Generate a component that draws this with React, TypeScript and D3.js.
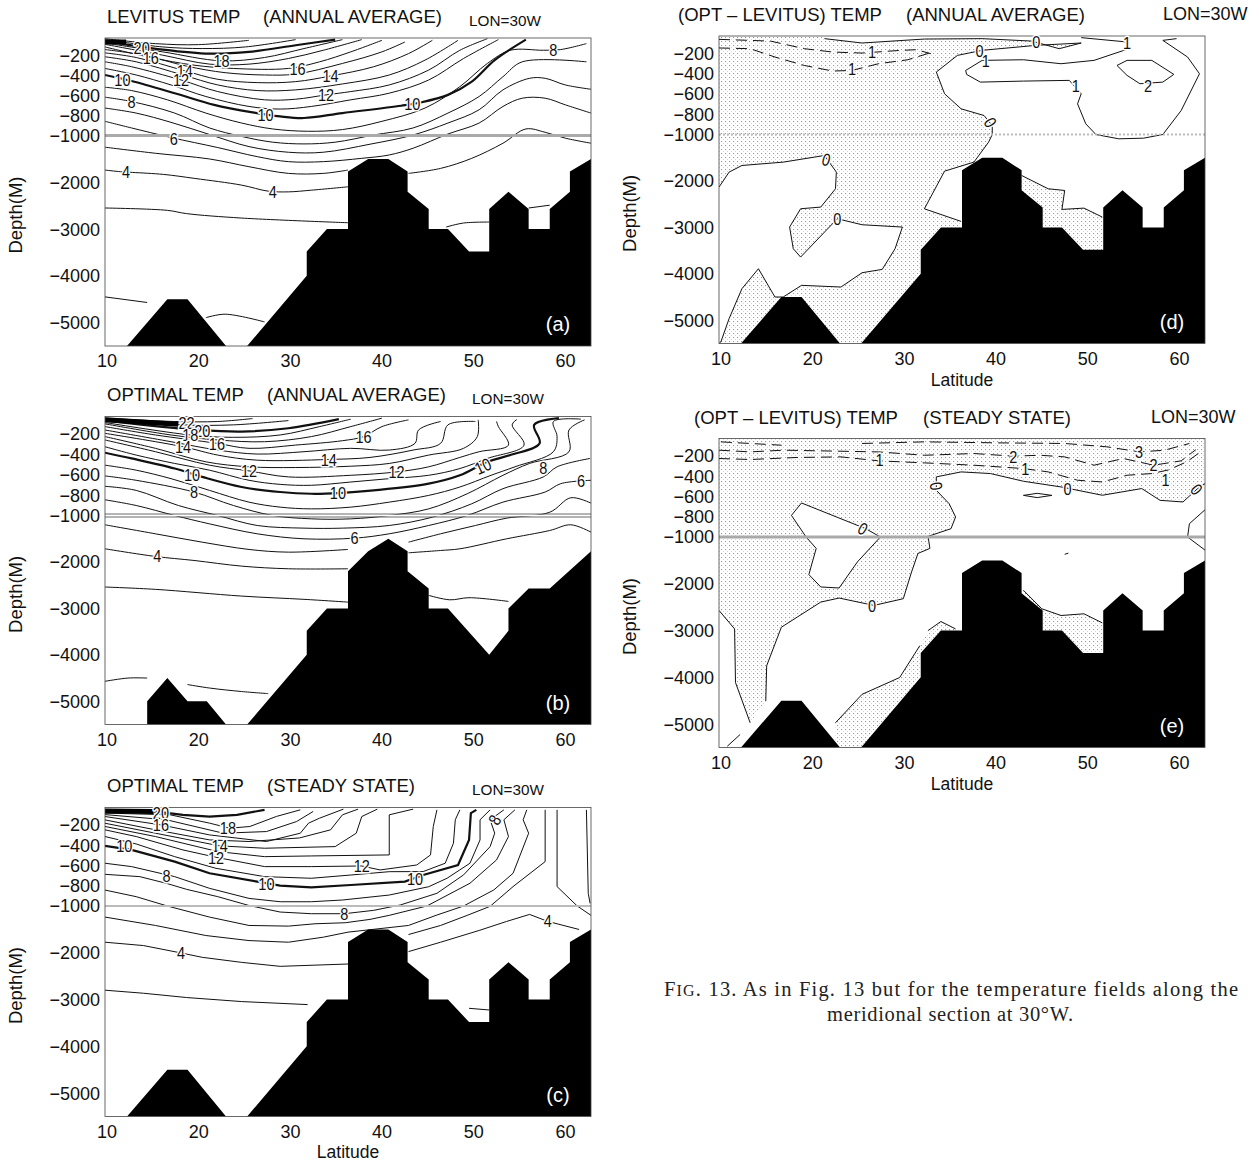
import React from 'react';
import * as d3 from 'd3';

type Pt = [number, number];
type Lab = [number, number, string, number?];

const latTicks = [10, 20, 30, 40, 50, 60];
const depthTicks = [-200, -400, -600, -800, -1000, -2000, -3000, -4000, -5000];

const seafloorCommon: Pt[] = [[12.4,-5500],[16.8,-4500],[19,-4500],[23.2,-5500],[25.5,-5500],[32,-4000],[32,-3480],[34.2,-3000],[36.5,-3000],[36.5,-1770],[38.7,-1500],[40.9,-1500],[43,-1770],[43,-2200],[45.3,-2570],[45.3,-3000],[47.4,-3000],[49.7,-3480],[51.9,-3480],[51.9,-2570],[54,-2200],[56.2,-2570],[56.2,-3000],[58.5,-3000],[58.5,-2570],[60.7,-2200],[60.7,-1770],[63,-1500],[63,-5500]];
const seafloorB: Pt[] = [[14.6,-5500],[14.6,-5000],[16.8,-4500],[19,-5000],[21.1,-5000],[23.2,-5500],[25.5,-5500],[32,-4000],[32,-3480],[34.2,-3000],[36.5,-3000],[36.5,-2200],[38.7,-1770],[40.9,-1500],[43,-1770],[43,-2200],[45.3,-2570],[45.3,-3000],[47.4,-3000],[51.9,-4000],[54,-3480],[54,-3000],[56.2,-2570],[58.5,-2570],[63,-1770],[63,-5500]];

// ---- panel (a) isotherms
const a02a: Pt[] = [[10,-4450],[14.6,-4570]];
const a02b: Pt[] = [[21,-4895],[23.1,-4820],[27.4,-4985]];
const a03a: Pt[] = [[10,-2550],[16.8,-2600],[18.9,-2670],[24.9,-2765],[36.5,-2865]];
const a03b: Pt[] = [[47.2,-2957],[49.1,-2871],[51.9,-2850]];
const a03c: Pt[] = [[56.2,-2550],[58.5,-2490]];
const a04: Pt[] = [[10,-1739],[11.7,-1774],[13,-1789],[16.4,-1832],[19.8,-1918],[24.9,-2061],[27.8,-2190],[30,-2205],[32.5,-2169],[36.5,-2097]];
const a05: Pt[] = [[10,-1250],[15.5,-1380],[21.4,-1502],[25.7,-1667],[30,-1810],[33.8,-1810],[36.5,-1739]];
const a05r: Pt[] = [[43.1,-1810],[46.6,-1703],[50,-1488],[53.4,-1165],[55.9,-935],[58,-968],[60.2,-1057],[63,-1165]];
const a06: Pt[] = [[10,-859],[12.9,-925],[17.2,-1043],[22.3,-1258],[26.6,-1452],[30,-1559],[33.8,-1559],[38,-1488],[41,-1416],[43.6,-1272],[47.4,-985],[50.8,-876],[53.4,-711],[55.5,-629],[58,-629],[60.2,-695],[63,-777]];
const a07: Pt[] = [[10,-727],[13.4,-777],[17.2,-869],[21.4,-990],[25.7,-1237],[30,-1358],[33.8,-1358],[38.9,-1186],[43.6,-995],[47.4,-876],[50.8,-744],[53.4,-546],[56.3,-431],[58,-431],[60.2,-497],[63,-540]];
const a08: Pt[] = [[10,-619],[12.9,-662],[17.6,-777],[21.4,-925],[24.9,-1020],[28.3,-1143],[31.7,-1180],[35.1,-1143],[39.3,-995],[43.6,-925],[47.4,-777],[50.8,-612],[53.4,-415],[55.5,-267],[62.5,-267]];
const a09: Pt[] = [[10,-520],[12.9,-553],[16.8,-645],[21,-777],[24.9,-876],[28.3,-935],[32.1,-958],[35.9,-941],[40.2,-859],[44.9,-727],[48.7,-514],[51.7,-283],[54.2,-152],[57.8,-152],[59.7,-145],[62.5,-86]];
const a10: Pt[] = [[10,-398],[12.9,-458],[17.6,-579],[21.9,-695],[26.1,-770],[29.1,-810],[31.7,-826],[35.9,-777],[42.3,-704],[44.4,-672],[47.4,-596],[50,-464],[52.5,-250],[55.9,-46]];
const a11: Pt[] = [[10,-333],[13.4,-398],[17.2,-497],[21,-612],[25.7,-711],[29.1,-737],[32.5,-711],[36.8,-645],[41,-579],[45.3,-448],[49.1,-234],[52.9,-46]];
const a12: Pt[] = [[10,-267],[12.9,-316],[18.3,-448],[22.3,-563],[27.4,-645],[30.8,-639],[34.1,-596],[36.8,-563],[41,-497],[45.3,-349],[48.7,-152],[51.7,-37]];
const a13: Pt[] = [[10,-217],[13.4,-267],[18.5,-398],[22.3,-497],[26.6,-553],[30.8,-546],[35.9,-487],[41,-398],[44.9,-250],[48.5,-53]];
const a14: Pt[] = [[10,-178],[13.4,-224],[18.7,-356],[22.3,-441],[26.6,-474],[30.8,-464],[34.6,-408],[39.3,-316],[43.1,-185],[45.7,-53]];
const a15: Pt[] = [[10,-145],[14.2,-201],[18.9,-310],[23.1,-375],[27.4,-398],[30.8,-389],[35.9,-283],[40.2,-168],[42.7,-70]];
const a16: Pt[] = [[10,-119],[15,-224],[19.7,-300],[24,-333],[30,-333],[33.4,-267],[36.8,-168],[40.2,-53]];
const a17: Pt[] = [[10,-93],[16.3,-201],[21.4,-290],[25.7,-290],[30,-234],[33.8,-152],[38,-46]];
const a18: Pt[] = [[10,-80],[16.3,-168],[22.7,-257],[27.4,-224],[31.7,-135],[35.9,-46]];
const a19: Pt[] = [[10,-60],[16.3,-145],[21.4,-185],[25.7,-168],[30.8,-102],[35.1,-46]];
const a20: Pt[] = [[10,-46],[16.3,-119],[20.6,-135],[25.3,-119],[30.8,-46]];
const a21: Pt[] = [[10,-37],[15.5,-86],[20.2,-96],[25.7,-53]];
const aBlob: Pt[] = [[10,-70],[12.3,-70]];
const aLabels: Lab[] = [[14,-125,'20'],[15,-224,'16'],[18.7,-356,'14'],[18.3,-448,'12'],[22.7,-257,'18'],[31,-333,'16'],[34.6,-408,'14'],[34.1,-596,'12'],[11.9,-448,'10'],[12.9,-662,'8'],[27.5,-793,'10'],[43.5,-682,'10'],[58.9,-145,'8'],[17.5,-1072,'6'],[12.3,-1774,'4'],[28.3,-2205,'4']];

// ---- panel (b) isotherms
const b02a: Pt[] = [[10,-4570],[12.5,-4500],[14.6,-4500]];
const b02b: Pt[] = [[19,-4640],[21.4,-4715],[24.9,-4790],[27.8,-4835]];
const b03a: Pt[] = [[10,-2540],[15.5,-2590],[24.9,-2735],[31.7,-2805],[36.5,-2865]];
const b03b: Pt[] = [[45.3,-2720],[47.6,-2815],[49.7,-2770],[54,-2850]];
const b04: Pt[] = [[10,-1717],[15.5,-1882],[19.7,-1968],[24.9,-2090],[30,-2147],[36.5,-2147]];
const b04r: Pt[] = [[43.1,-1803],[46.6,-1753],[48.7,-1717],[53.8,-1502],[58.5,-1323],[60.8,-1200],[63,-1358]];
const b05: Pt[] = [[10,-1200],[15.5,-1394],[20.6,-1574],[25.7,-1731],[30,-1789],[36.5,-1731]];
const b05r: Pt[] = [[43.1,-1574],[46.6,-1394],[50.4,-1215],[53.8,-1057],[58.5,-968],[60.8,-826],[63,-879]];
const b06: Pt[] = [[10,-846],[13.4,-902],[17.6,-1000],[21.4,-1180],[26.6,-1394],[31.7,-1502],[37.2,-1488],[41,-1394],[45.3,-1215],[49.5,-1000],[53.4,-869],[58,-770],[59.7,-688],[63,-655]];
const b07: Pt[] = [[10,-714],[13.4,-754],[18,-902],[22.3,-1000],[26.6,-1215],[31.7,-1272],[35.9,-1272],[41,-1215],[45.7,-1036],[50,-885],[53.4,-737],[57.8,-622],[59.3,-523],[62.9,-441]];
const b08: Pt[] = [[10,-612],[13.4,-655],[19.7,-770],[24,-902],[28.3,-1000],[32.5,-1072],[36.8,-1072],[41,-1000],[45.3,-935],[49.5,-787],[53.4,-606],[56.3,-490],[60.6,-375],[60.6,-162],[62.3,-63]];
const b09: Pt[] = [[10,-507],[13.4,-556],[17.2,-639],[21.4,-754],[25.7,-869],[29.1,-918],[32.5,-935],[36.8,-918],[41,-869],[45.3,-803],[48.7,-721],[52.1,-606],[54.7,-523],[58.9,-375],[59.3,-227],[58.9,-79],[61.9,-56]];
const b10: Pt[] = [[10,-385],[12.9,-441],[17.6,-540],[20.6,-622],[24.9,-721],[29.1,-770],[32.5,-787],[35.5,-780],[39.3,-754],[45.3,-688],[48.7,-606],[51.7,-474],[54.2,-408],[57.4,-293],[56.8,-112],[59.5,-46]];
const b11: Pt[] = [[10,-326],[13.4,-408],[17.6,-490],[21.4,-556],[25.7,-655],[29.1,-695],[32.5,-704],[36.8,-672],[41,-639],[45.3,-606],[48.7,-540],[51.7,-441],[55.7,-310],[54.4,-112],[54.9,-60]];
const b12: Pt[] = [[10,-260],[15.5,-375],[21.4,-507],[25.7,-563],[30,-622],[36.8,-606],[41.8,-573],[45.3,-523],[48.7,-431],[50.8,-375],[54,-310],[52.9,-129],[52.7,-79]];
const b13: Pt[] = [[10,-227],[15.5,-342],[21,-474],[25.7,-523],[30.8,-530],[36.8,-517],[41,-490],[45.3,-408],[49.1,-342],[50.6,-227],[50.7,-63]];
const b14: Pt[] = [[10,-195],[18.5,-326],[22.3,-408],[26.6,-458],[34.4,-451],[38.9,-431],[43.6,-359],[46.6,-293],[47.4,-112],[50.4,-79]];
const b15: Pt[] = [[10,-162],[17.2,-277],[22.3,-359],[26.6,-398],[31.7,-375],[36.8,-342],[41,-359],[43.8,-293],[44.2,-162],[46.6,-79]];
const b16: Pt[] = [[10,-129],[15.5,-211],[22.2,-293],[25.7,-342],[30.8,-310],[35.9,-267],[38.2,-227],[40.2,-129],[43.1,-63]];
const b17: Pt[] = [[10,-102],[17.2,-211],[22.3,-260],[27.4,-277],[32.5,-227],[36.8,-129],[40.2,-46]];
const b18: Pt[] = [[10,-89],[19.3,-211],[24,-234],[29.1,-211],[33.4,-129],[36.8,-56]];
const b19: Pt[] = [[10,-70],[20.2,-162],[24.9,-178],[30,-145],[35.5,-56]];
const b20: Pt[] = [[10,-56],[18.5,-112],[24,-112],[30,-70]];
const b21: Pt[] = [[10,-46],[17.6,-79],[22.3,-79],[26.1,-50]];
const bBlob: Pt[] = [[10,-62],[18,-105]];
const bLabels: Lab[] = [[18.9,-89,'22'],[20.6,-168,'20'],[19.3,-211,'18'],[22.2,-293,'16'],[18.5,-326,'14'],[25.7,-563,'12'],[19.5,-596,'10'],[19.7,-770,'8'],[38.2,-227,'16'],[34.4,-451,'14'],[41.8,-573,'12'],[35.4,-780,'10'],[51.2,-517,'10',-25],[57.8,-530,'8'],[61.9,-655,'6'],[37.2,-1488,'6'],[15.7,-1875,'4']];

// ---- panel (c) isotherms
const c03a: Pt[] = [[10,-2800],[14.2,-2865],[18.9,-2957],[24.9,-3043],[32.1,-3108]];
const c03b: Pt[] = [[49.7,-3187],[51.9,-3223]];
const c04: Pt[] = [[10,-1774],[14.2,-1846],[18.3,-2004],[20.6,-2097],[24.9,-2205],[29.1,-2290],[36.5,-2240]];
const c04r: Pt[] = [[43.1,-1975],[46.6,-1774],[50.8,-1523],[53.8,-1330],[56.3,-1180],[58.3,-1330],[61.7,-1502]];
const c05r: Pt[] = [[43.1,-1610],[46.6,-1416],[49.5,-1200],[52,-1007],[54.5,-809],[58,-563],[58,-53]];
const c06: Pt[] = [[10,-1237],[15.5,-1416],[21,-1631],[25.7,-1739],[30,-1774],[33.8,-1667],[36.5,-1559],[43.1,-1416],[46.1,-1200],[49.1,-1000],[52.4,-842],[54.5,-678],[56.2,-283],[55.6,-151],[56,-53]];
const c07: Pt[] = [[10,-843],[13.4,-908],[16.8,-1000],[21.4,-1237],[25.7,-1416],[30,-1430],[32.9,-1380],[36.2,-1358],[38.9,-1286],[41,-1200],[45.1,-1000],[49.8,-776],[52.7,-546],[54,-316],[53.5,-151],[54.7,-53]];
const c08: Pt[] = [[10,-688],[13.8,-711],[16.7,-777],[18.9,-836],[22.3,-908],[25.7,-995],[29.1,-1129],[32.5,-1165],[36.1,-1165],[39.3,-1093],[42.2,-990],[46.2,-875],[49.1,-694],[52,-415],[52.5,-283],[52,-151],[53.5,-53]];
const c09: Pt[] = [[10,-579],[12.9,-612],[17.6,-711],[21.4,-826],[25.7,-925],[29.1,-958],[32.5,-958],[35.9,-941],[41,-892],[45.3,-810],[47.3,-727],[49.8,-579],[50.9,-349],[50.9,-151],[52,-53]];
const c10: Pt[] = [[10,-408],[12.9,-448],[17.6,-563],[21.4,-678],[26.6,-760],[29.1,-800],[32.5,-816],[36.8,-793],[42.7,-760],[44.7,-694],[48.5,-596],[49.7,-349],[49.9,-85],[50.5,-53]];
const c11: Pt[] = [[10,-316],[13.4,-389],[17.6,-514],[22.1,-629],[27.4,-711],[32.5,-727],[36.8,-695],[41,-662],[44.7,-661],[47.1,-579],[48,-382],[48.2,-151],[48.7,-53]];
const c12: Pt[] = [[10,-250],[13.4,-316],[18.5,-448],[22.1,-520],[27.4,-612],[32.5,-612],[38,-606],[40,-645],[44,-596],[45.5,-497],[45.8,-217],[46.2,-53]];
const c13: Pt[] = [[10,-217],[15.5,-316],[22.3,-464],[27.4,-514],[32.5,-507],[41,-497],[41,-102],[43.6,-46]];
const c14: Pt[] = [[10,-185],[15.5,-283],[22.5,-408],[27.4,-431],[35.1,-415],[37.4,-283],[38,-119],[39.7,-46]];
const c15: Pt[] = [[10,-152],[15.5,-250],[21.4,-349],[25.7,-365],[31.2,-330],[34.6,-250],[35.9,-102],[37.6,-46]];
const c16: Pt[] = [[10,-119],[16.1,-201],[21.4,-300],[27.6,-365],[31.3,-283],[32.2,-184],[33.4,-135],[36,-46]];
const c17: Pt[] = [[10,-100],[16.7,-151],[22.9,-283],[27.6,-267],[30.9,-168],[32.7,-69]];
const c18: Pt[] = [[10,-85],[17.1,-102],[21.4,-184],[23.6,-234],[25.8,-217],[28.7,-118],[31.3,-53]];
const c19: Pt[] = [[15.3,-69],[18.5,-102],[21.4,-119],[24.4,-102],[27.4,-53]];
const c3r: Pt[] = [[62.5,-53],[62.7,-875],[62.9,-974]];
const c4v: Pt[] = [[59.3,-53],[59.3,-809],[61.5,-1000],[63,-1200]];
const cBlob: Pt[] = [[10,-65],[15.3,-69]];
const cLabels: Lab[] = [[16.1,-86,'20'],[16.1,-201,'16'],[23.4,-234,'18'],[22.5,-408,'14'],[22.1,-520,'12'],[38,-606,'12'],[12.1,-408,'10'],[27.6,-783,'10'],[43.8,-734,'10'],[16.7,-704,'8'],[36.1,-1165,'8'],[18.3,-2004,'4'],[58.3,-1323,'4'],[52.5,-152,'8',-60]];

// ---- panel (d) differences
const dMinus1a: Pt[] = [[10,-63],[15.6,-80],[19.3,-155],[22.4,-188],[25.6,-198],[29.7,-172],[31.5,-165],[33.1,-204]];
const dMinus1b: Pt[] = [[10,-148],[13.4,-155],[16.1,-237],[19.3,-320],[22.4,-375],[24.5,-369],[27.4,-303],[30.6,-264],[33.3,-188]];
const dZero: Pt[] = [[21.5,-56],[25.6,-99],[32.4,-60],[38.7,-56],[44.1,-80],[47.1,-155],[49.5,-99],[44.6,-122],[38.7,-171],[36,-221],[33.7,-385],[34.6,-599],[36.4,-747],[38.9,-813],[39.8,-912],[39.8,-1000],[39.4,-1165],[37.8,-1595],[34.6,-1789],[32.4,-2600],[36.4,-2871]];
const dZeroB: Pt[] = [[49.5,-46],[54.5,-89],[54.7,-155]];
const dOneA: Pt[] = [[47.3,-303],[43.2,-264],[38.7,-270],[36.9,-369],[37,-408],[38.5,-484],[43.2,-474],[48.2,-467],[49.5,-599],[49.1,-698],[50,-895],[51.1,-1000],[53.6,-1093],[56.3,-1079],[58.4,-1000],[60.4,-764],[62.4,-402],[61.1,-237],[58.4,-73],[59.9,-56]];
const dOneB: Pt[] = [[47.3,-303],[50.9,-270],[54.7,-155]];
const dTwo: Pt[] = [[53.4,-320],[54.5,-270],[57.2,-270],[59.6,-408],[58.4,-484],[55.9,-500],[54.5,-418],[53.4,-320]];
const dHole: Pt[] = [[10,-2133],[11.1,-1810],[12.5,-1667],[17,-1595],[21.5,-1452],[22.8,-1810],[22.7,-2169],[21.1,-2563],[18.9,-2599],[17.7,-2993],[18.1,-3459],[18.9,-3639],[22.9,-2814],[25.6,-2943],[30,-2993],[29.2,-3459],[27.8,-3904],[25.6,-3976],[23.3,-4284],[19,-4248],[17,-4499],[16.1,-4499],[14.3,-3890],[12.5,-4320],[11.1,-4965],[10.2,-5467],[10,-5500]];
const dRight: Pt[] = [[43,-1882],[45.9,-2169],[47.7,-2205],[47.4,-2613],[49.8,-2585],[51.8,-2778]];
const dShadeMain: Pt[] = [[10,-20],[21.5,-20],...dZero,[36.4,-5500],[10,-5500]];
const dShadeRight: Pt[] = [...dRight,[51.8,-3500],[49.5,-3500],[45.2,-3000],[45.2,-2570],[43,-2200]];
const dLabels: Lab[] = [[26.7,-188,'1'],[24.5,-352,'1'],[44.6,-89,'0'],[38.4,-178,'0'],[39.1,-270,'1'],[48.9,-517,'1'],[56.8,-517,'2'],[39.6,-880,'0',60],[21.7,-1538,'0',15],[22.9,-2814,'0'],[54.5,-100,'1']];

// ---- panel (e) differences
const eM1: Pt[] = [[10,-227],[13.4,-237],[18.4,-217],[23.3,-211],[27.4,-250],[32.4,-270],[37.8,-293],[43.2,-326],[45.9,-359],[49.1,-441],[51.8,-458],[54.5,-392],[57.2,-375],[59,-340],[61,-260],[62.7,-150]];
const eM2: Pt[] = [[10,-145],[13.4,-162],[17,-145],[27.4,-162],[32.4,-195],[37.8,-178],[42.1,-204],[45,-195],[47.7,-211],[50.9,-293],[54.1,-227],[57.4,-293],[60.4,-250],[62,-140]];
const eM3a: Pt[] = [[10.2,-63],[13.4,-79],[16.8,-96]];
const eM3b: Pt[] = [[25.6,-79],[32.4,-63],[40.5,-73],[47.7,-79],[52.3,-112],[55.9,-162],[58.6,-145],[61.3,-79]];
const eZeroTop: Pt[] = [[63,-474],[62.2,-523],[60.6,-655],[58.1,-639],[56.1,-523],[51.8,-589],[47.3,-507],[43.2,-451],[39.6,-375],[36.4,-359],[33.7,-408]];
const eZeroDown: Pt[] = [[33.7,-540],[35.1,-672],[35.8,-803],[35.3,-918],[32.8,-994],[33,-1244],[31.7,-1351],[31,-1746],[30.1,-2319],[26.9,-2463],[23.1,-2305],[21.1,-2391],[16.8,-2929],[15.2,-3753],[15.1,-4506]];
const eZeroLink: Pt[] = [[33.7,-408],[33.7,-540]];
const eHole: Pt[] = [[17.9,-787],[19,-665],[26,-918],[27.6,-1000],[25.1,-1531],[23.1,-2090],[21.1,-2068],[19.8,-1803],[20.6,-1244],[19.5,-1000],[17.9,-787]];
const eLeft: Pt[] = [[10,-2570],[11.7,-2965],[11.8,-4112],[13.4,-4972]];
const eCorner: Pt[] = [[10.9,-5474],[12.3,-5223]];
const eLowA: Pt[] = [[22.7,-4972],[25.6,-4363],[29.7,-4004],[31.9,-3323]];
const eLowB: Pt[] = [[32.8,-3000],[34.2,-2807],[35.8,-2965]];
const eRight: Pt[] = [[43.2,-2140],[45.2,-2534],[47.3,-2678],[49.8,-2642],[51.8,-2836]];
const eArc: Pt[] = [[63,-732],[61.3,-869],[61.1,-1000],[63,-1280]];
const eLens: Pt[] = [[43.2,-590],[44.7,-570],[46.3,-590],[44.7,-612],[43.2,-590]];
const eSpeck: Pt[] = [[47.7,-1370],[48.1,-1345]];
const eShadeMain: Pt[] = [[10,-20],[63,-20],...eZeroTop,...eZeroDown,[13.4,-4972],...eLeft.slice().reverse()];
const eShadeLow: Pt[] = [...eLowA,...eLowB,[36.4,-5500],[22.7,-5500]];
const eShadeRight: Pt[] = [...eRight,[51.8,-3500],[49.5,-3500],[45.2,-3000],[45.2,-2570],[43,-2200]];
const eLabels: Lab[] = [[27.5,-244,'1'],[42.1,-211,'2'],[43.4,-326,'1'],[55.8,-162,'3'],[57.4,-293,'2'],[58.7,-441,'1'],[33.7,-500,'0',80],[48,-523,'0'],[62.1,-530,'0',50],[25.7,-918,'0',30],[26.7,-2463,'0']];

interface Panel {
  key: string; box: [number, number, number, number, number];
  title: [string, number, string, number, number]; lon: [number, number, number];
  floor: Pt[]; thin: Pt[][]; bold: Pt[][]; blob?: Pt[]; dashed?: Pt[][];
  shade?: Pt[][]; holes?: Pt[][]; labels: Lab[]; xlabel?: [number, number];
  brk: [string, number, string?]; depthX: number; smooth: boolean;
}

const panels: Panel[] = [
  { key: 'a', box: [105, 591, 38, 135.5, 346], title: ['LEVITUS TEMP', 107, '(ANNUAL AVERAGE)', 263, 23], lon: [469, 26, 15.3], floor: seafloorCommon,
    thin: [a02a,a02b,a03a,a03b,a03c,a04,a05,a05r,a06,a07,a08,a09,a11,a12,a13,a14,a15,a16,a17,a18,a20,a21], bold: [a10,a19], blob: aBlob, labels: aLabels, brk: ['#aaa', 3], depthX: 22, smooth: true },
  { key: 'b', box: [105, 591, 416.5, 515.5, 724.5], title: ['OPTIMAL TEMP', 107, '(ANNUAL AVERAGE)', 267, 401], lon: [472, 404, 15.3], floor: seafloorB,
    thin: [b02a,b02b,b03a,b03b,b04,b04r,b05,b05r,b06,b07,b08,b09,b11,b12,b13,b14,b15,b16,b17,b18,b20,b21], bold: [b10,b19], blob: bBlob, labels: bLabels, brk: ['#fff', 2], depthX: 22, smooth: true },
  { key: 'c', box: [105, 591, 807.5, 906, 1116.5], title: ['OPTIMAL TEMP', 107, '(STEADY STATE)', 267, 792], lon: [472, 795, 15.3], floor: seafloorCommon,
    thin: [c03a,c03b,c04,c04r,c05r,c06,c07,c08,c09,c11,c12,c13,c14,c15,c16,c17,c18,c3r,c4v], bold: [c10,c19], blob: cBlob, labels: cLabels, xlabel: [348, 1158], brk: ['#bbb', 2], depthX: 22, smooth: false },
  { key: 'd', box: [719, 1205, 36, 134.5, 343.5], title: ['(OPT \u2013 LEVITUS) TEMP', 678, '(ANNUAL AVERAGE)', 906, 21], lon: [1163, 20, 18], floor: seafloorCommon,
    thin: [dZero,dZeroB,dOneA,dOneB,dTwo,dRight], bold: [], dashed: [dMinus1a,dMinus1b], shade: [dShadeMain,dShadeRight], holes: [dHole], labels: dLabels, xlabel: [962, 386], brk: ['#bbb', 2, '2 2'], depthX: 636, smooth: false },
  { key: 'e', box: [719, 1205, 438.5, 537, 747.5], title: ['(OPT \u2013 LEVITUS) TEMP', 694, '(STEADY STATE)', 923, 424], lon: [1151, 423, 18], floor: seafloorCommon,
    thin: [eZeroTop,eZeroLink,eZeroDown,eLeft,eCorner,eLowA,eLowB,eRight,eArc,eLens,eSpeck], bold: [], dashed: [eM1,eM2,eM3a,eM3b], shade: [eShadeMain,eShadeLow,eShadeRight], holes: [eHole], labels: eLabels, xlabel: [962, 790], brk: ['#aaa', 3], depthX: 636, smooth: false },
];

const FONT = '"Liberation Sans", Arial, sans-serif';
const INK = '#111';

function PanelView({ p }: { p: Panel }) {
  const [l, r, t, m, b] = p.box;
  const x = d3.scaleLinear().domain([10, 63]).range([l, r]);
  const y = d3.scaleLinear().domain([-30, -1000, -5500]).range([t, m, b]);
  const px = (d: Pt) => x(d[0]);
  const py = (d: Pt) => y(d[1]);
  const line = d3.line<Pt>().x(px).y(py);
  const smooth = d3.line<Pt>().x(px).y(py).curve(d3.curveCatmullRom.alpha(0.5));
  const draw = p.smooth ? smooth : line;
  const poly = (pts: Pt[]) => line(pts) + 'Z';
  const clip = `clip-${p.key}`;
  return (
    <g fontFamily={FONT} fill={INK}>
      <text x={p.title[1]} y={p.title[4]} fontSize={18.5}>{p.title[0]}</text>
      <text x={p.title[3]} y={p.title[4]} fontSize={18.5}>{p.title[2]}</text>
      <text x={p.lon[0]} y={p.lon[1]} fontSize={p.lon[2]}>LON=30W</text>
      <clipPath id={clip}><rect x={l} y={t} width={r - l} height={b - t} /></clipPath>
      <g clipPath={`url(#${clip})`}>
        {(p.shade || []).map((s, i) => <path key={i} d={poly(s)} fill="url(#stipple)" stroke="none" />)}
        {(p.holes || []).map((s, i) => <path key={i} d={poly(s)} fill="#fff" stroke="none" />)}
        {(p.holes || []).map((s, i) => <path key={i} d={line(s) || ''} fill="none" stroke={INK} strokeWidth={1} />)}
        {p.thin.map((s, i) => <path key={i} d={draw(s) || ''} fill="none" stroke={INK} strokeWidth={1} />)}
        {p.bold.map((s, i) => <path key={i} d={draw(s) || ''} fill="none" stroke={INK} strokeWidth={2.2} />)}
        {(p.dashed || []).map((s, i) => <path key={i} d={draw(s) || ''} fill="none" stroke={INK} strokeWidth={1} strokeDasharray="11 6" />)}
        {p.blob && <path d={line(p.blob) || ''} fill="none" stroke="#000" strokeWidth={5} />}
        <path d={poly(p.floor)} fill="#000" stroke="none" />
      </g>
      <line x1={l} x2={r} y1={m} y2={m} stroke={p.brk[0]} strokeWidth={p.brk[1]} strokeDasharray={p.brk[2]} />
      {p.brk[0] === '#fff' && <line x1={l} x2={r} y1={m - 1.5} y2={m - 1.5} stroke="#444" strokeWidth={0.8} />}
      {p.brk[0] === '#fff' && <line x1={l} x2={r} y1={m + 1.5} y2={m + 1.5} stroke="#444" strokeWidth={0.8} />}
      <rect x={l} y={t} width={r - l} height={b - t} fill="none" stroke="#444" strokeWidth={0.8} />
      {p.labels.map((d, i) => (
        <text key={i} transform={`translate(${x(d[0])},${y(d[1])}) rotate(${d[3] || 0}) scale(0.88,1.05)`} textAnchor="middle" dy="0.36em" fontSize={16.5}
          stroke="#fff" strokeWidth={3} paintOrder="stroke" strokeLinejoin="round">{d[2]}</text>
      ))}
      {depthTicks.map(v => (
        <text key={v} x={l - 5} y={y(v)} dy="0.36em" textAnchor="end" fontSize={18}>{d3.format('d')(v)}</text>
      ))}
      {latTicks.map(v => (
        <text key={v} x={x(v) + 2} y={b + 21} textAnchor="middle" fontSize={18}>{v}</text>
      ))}
      <text transform={`translate(${p.depthX},${y(-3000) - 14}) rotate(-90)`} textAnchor="middle" fontSize={18.5}>Depth(M)</text>
      {p.xlabel && <text x={p.xlabel[0]} y={p.xlabel[1]} textAnchor="middle" fontSize={17.5}>Latitude</text>}
      <text x={r - 33} y={b - 22} textAnchor="middle" dy="0.36em" fontSize={20} fill="#fff">({p.key})</text>
    </g>
  );
}

export default function App() {
  return (
    <svg width={1259} height={1162} viewBox="0 0 1259 1162" style={{ position: 'absolute', left: 0, top: 0, background: '#fff' }}>
      <defs>
        <pattern id="stipple" width={4} height={4} patternUnits="userSpaceOnUse">
          <rect width={4} height={4} fill="#fff" />
          <rect x={1} y={1} width={1.1} height={1.1} fill="#999" />
          <rect x={3} y={3} width={1} height={1} fill="#d4d4d4" />
        </pattern>
      </defs>
      {panels.map(p => <PanelView key={p.key} p={p} />)}
      <g fontFamily='"Liberation Serif", "Times New Roman", serif' fontSize={20.5} fill="#222">
        <text x={664} y={996} textLength={574} lengthAdjust="spacing">F<tspan fontSize={16}>IG</tspan>. 13. As in Fig. 13 but for the temperature fields along the</text>
        <text x={827} y={1021} textLength={246} lengthAdjust="spacing">meridional section at 30°W.</text>
      </g>
    </svg>
  );
}
